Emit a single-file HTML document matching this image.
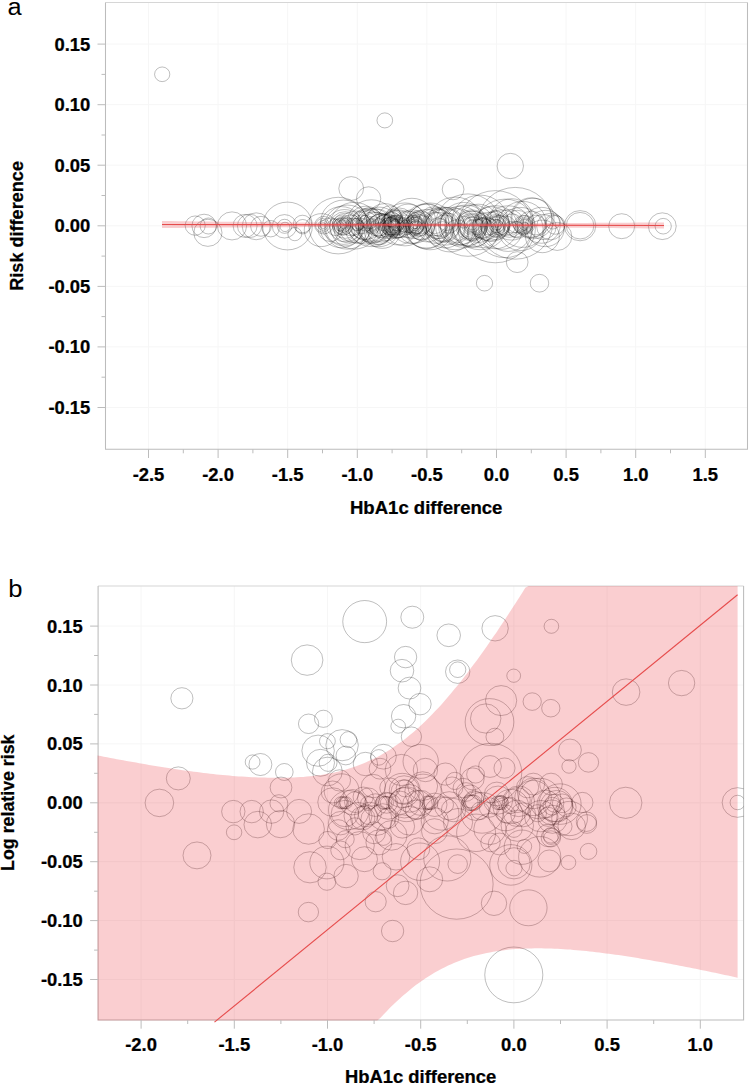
<!DOCTYPE html>
<html><head><meta charset="utf-8"><style>
html,body{margin:0;padding:0;background:#fff;width:749px;height:1085px;overflow:hidden}
svg{display:block}
</style></head><body>
<svg width="749" height="1085" viewBox="0 0 749 1085">
<rect width="749" height="1085" fill="#fff"/>
<rect x="105.5" y="2.4" width="642.0" height="446.90000000000003" fill="#fff"/>
<line x1="148.5" y1="2.4" x2="148.5" y2="449.3" stroke="#f6f6f6" stroke-width="1"/>
<line x1="218.1" y1="2.4" x2="218.1" y2="449.3" stroke="#f6f6f6" stroke-width="1"/>
<line x1="287.7" y1="2.4" x2="287.7" y2="449.3" stroke="#f6f6f6" stroke-width="1"/>
<line x1="357.3" y1="2.4" x2="357.3" y2="449.3" stroke="#f6f6f6" stroke-width="1"/>
<line x1="426.9" y1="2.4" x2="426.9" y2="449.3" stroke="#f6f6f6" stroke-width="1"/>
<line x1="496.5" y1="2.4" x2="496.5" y2="449.3" stroke="#f6f6f6" stroke-width="1"/>
<line x1="566.1" y1="2.4" x2="566.1" y2="449.3" stroke="#f6f6f6" stroke-width="1"/>
<line x1="635.7" y1="2.4" x2="635.7" y2="449.3" stroke="#f6f6f6" stroke-width="1"/>
<line x1="705.3" y1="2.4" x2="705.3" y2="449.3" stroke="#f6f6f6" stroke-width="1"/>
<line x1="105.5" y1="44.1" x2="747.5" y2="44.1" stroke="#f6f6f6" stroke-width="1"/>
<line x1="105.5" y1="104.7" x2="747.5" y2="104.7" stroke="#f6f6f6" stroke-width="1"/>
<line x1="105.5" y1="165.2" x2="747.5" y2="165.2" stroke="#f6f6f6" stroke-width="1"/>
<line x1="105.5" y1="225.8" x2="747.5" y2="225.8" stroke="#f6f6f6" stroke-width="1"/>
<line x1="105.5" y1="286.4" x2="747.5" y2="286.4" stroke="#f6f6f6" stroke-width="1"/>
<line x1="105.5" y1="346.9" x2="747.5" y2="346.9" stroke="#f6f6f6" stroke-width="1"/>
<line x1="105.5" y1="407.5" x2="747.5" y2="407.5" stroke="#f6f6f6" stroke-width="1"/>
<defs><clipPath id="ca"><rect x="105.5" y="2.4" width="642.0" height="446.90000000000003"/></clipPath><clipPath id="cb"><rect x="98.1" y="586" width="645.5" height="434"/></clipPath></defs>
<g clip-path="url(#ca)" fill="none" stroke="#000" stroke-width="0.75" stroke-opacity="0.34">
<ellipse cx="162.2" cy="74.3" rx="7.61" ry="7.32"/>
<ellipse cx="384.8" cy="120.4" rx="7.82" ry="7.51"/>
<ellipse cx="351.2" cy="188.5" rx="12.38" ry="11.90"/>
<ellipse cx="368.6" cy="198.5" rx="12.18" ry="11.71"/>
<ellipse cx="453.1" cy="189.3" rx="10.86" ry="10.44"/>
<ellipse cx="510.3" cy="166" rx="13.19" ry="12.68"/>
<ellipse cx="517.2" cy="262.1" rx="10.86" ry="10.44"/>
<ellipse cx="484.5" cy="283.2" rx="8.12" ry="7.80"/>
<ellipse cx="539.5" cy="283.2" rx="9.24" ry="8.88"/>
<ellipse cx="580.1" cy="225.7" rx="15.73" ry="15.12"/>
<ellipse cx="580.1" cy="225.7" rx="13.80" ry="13.27"/>
<ellipse cx="621.7" cy="226.2" rx="12.99" ry="12.49"/>
<ellipse cx="662.3" cy="226.2" rx="13.91" ry="13.37"/>
<ellipse cx="663.2" cy="226.2" rx="8.12" ry="7.80"/>
<ellipse cx="195.2" cy="225.6" rx="10.05" ry="9.66"/>
<ellipse cx="204.1" cy="225.9" rx="12.18" ry="11.71"/>
<ellipse cx="207.9" cy="232.8" rx="14.11" ry="13.56"/>
<ellipse cx="208.4" cy="226.0" rx="8.32" ry="8.00"/>
<ellipse cx="232.0" cy="225.9" rx="14.62" ry="14.05"/>
<ellipse cx="245.1" cy="225.9" rx="11.98" ry="11.51"/>
<ellipse cx="249.6" cy="225.9" rx="12.18" ry="11.71"/>
<ellipse cx="256.2" cy="226.3" rx="14.01" ry="13.46"/>
<ellipse cx="261" cy="226.3" rx="10.35" ry="9.95"/>
<ellipse cx="270.7" cy="228.7" rx="8.53" ry="8.20"/>
<ellipse cx="284.6" cy="226.3" rx="7.31" ry="7.02"/>
<ellipse cx="284.5" cy="226.3" rx="12.18" ry="11.71"/>
<ellipse cx="285" cy="226.9" rx="4.87" ry="4.68"/>
<ellipse cx="287.5" cy="226.0" rx="24.87" ry="23.90"/>
<ellipse cx="338.2" cy="225.6" rx="29.43" ry="28.29"/>
<ellipse cx="515.2" cy="223.3" rx="37.35" ry="35.90"/>
<ellipse cx="557.2" cy="236.4" rx="14.62" ry="14.05"/>
<ellipse cx="555.3" cy="224.9" rx="9.74" ry="9.37"/>
<ellipse cx="550.5" cy="226.5" rx="13.80" ry="13.27"/>
<ellipse cx="532.9" cy="218.5" rx="21.11" ry="20.29"/>
<ellipse cx="523.3" cy="224.9" rx="9.74" ry="9.37"/>
<ellipse cx="525" cy="224.9" rx="9.74" ry="9.37"/>
<ellipse cx="468" cy="225.1" rx="32.48" ry="31.22"/>
<ellipse cx="495.3" cy="226.7" rx="37.55" ry="36.10"/>
<ellipse cx="455.2" cy="223.4" rx="27.40" ry="26.34"/>
<ellipse cx="430" cy="226.4" rx="24.36" ry="23.41"/>
<ellipse cx="405" cy="224.4" rx="22.33" ry="21.46"/>
<ellipse cx="505" cy="228.4" rx="30.45" ry="29.27"/>
<ellipse cx="480" cy="222.4" rx="28.42" ry="27.32"/>
<ellipse cx="445" cy="228.4" rx="20.30" ry="19.51"/>
<ellipse cx="398" cy="227.4" rx="18.27" ry="17.56"/>
<ellipse cx="407.0" cy="221.8" rx="11.37" ry="10.93"/>
<ellipse cx="339.9" cy="224.8" rx="6.39" ry="6.15"/>
<ellipse cx="344.5" cy="227.8" rx="18.98" ry="18.24"/>
<ellipse cx="481.9" cy="227.8" rx="10.76" ry="10.34"/>
<ellipse cx="543.0" cy="227.0" rx="13.09" ry="12.59"/>
<ellipse cx="406.1" cy="227.4" rx="7.51" ry="7.22"/>
<ellipse cx="482.9" cy="228.4" rx="10.56" ry="10.15"/>
<ellipse cx="489.1" cy="226.7" rx="8.63" ry="8.29"/>
<ellipse cx="426.4" cy="225.9" rx="23.04" ry="22.15"/>
<ellipse cx="457.1" cy="231.2" rx="11.98" ry="11.51"/>
<ellipse cx="545.4" cy="228.5" rx="18.88" ry="18.15"/>
<ellipse cx="330.4" cy="229.7" rx="12.28" ry="11.80"/>
<ellipse cx="517.3" cy="221.6" rx="11.77" ry="11.32"/>
<ellipse cx="512.5" cy="223.5" rx="9.95" ry="9.56"/>
<ellipse cx="341.4" cy="227.2" rx="21.42" ry="20.59"/>
<ellipse cx="415.7" cy="222.6" rx="6.29" ry="6.05"/>
<ellipse cx="381.2" cy="227.9" rx="14.82" ry="14.24"/>
<ellipse cx="416.7" cy="228.0" rx="6.70" ry="6.44"/>
<ellipse cx="463.7" cy="224.9" rx="23.34" ry="22.44"/>
<ellipse cx="412.8" cy="230.0" rx="13.91" ry="13.37"/>
<ellipse cx="383.1" cy="222.9" rx="8.02" ry="7.71"/>
<ellipse cx="302.5" cy="224.0" rx="9.13" ry="8.78"/>
<ellipse cx="535.6" cy="225.1" rx="10.25" ry="9.85"/>
<ellipse cx="522.6" cy="224.4" rx="23.95" ry="23.02"/>
<ellipse cx="416.3" cy="227.1" rx="6.90" ry="6.63"/>
<ellipse cx="389.5" cy="226.3" rx="8.83" ry="8.49"/>
<ellipse cx="294.8" cy="234.1" rx="6.90" ry="6.63"/>
<ellipse cx="477.6" cy="227.1" rx="8.12" ry="7.80"/>
<ellipse cx="411.9" cy="221.0" rx="23.65" ry="22.73"/>
<ellipse cx="353.8" cy="226.7" rx="8.83" ry="8.49"/>
<ellipse cx="509.3" cy="223.4" rx="14.51" ry="13.95"/>
<ellipse cx="460.4" cy="225.3" rx="20.10" ry="19.32"/>
<ellipse cx="515.9" cy="229.3" rx="8.22" ry="7.90"/>
<ellipse cx="459.1" cy="232.0" rx="8.73" ry="8.39"/>
<ellipse cx="508.2" cy="228.6" rx="23.75" ry="22.83"/>
<ellipse cx="393.5" cy="219.4" rx="8.93" ry="8.59"/>
<ellipse cx="321.4" cy="230.1" rx="17.15" ry="16.49"/>
<ellipse cx="531.2" cy="224.5" rx="13.80" ry="13.27"/>
<ellipse cx="391.8" cy="219.3" rx="7.71" ry="7.41"/>
<ellipse cx="511.6" cy="219.4" rx="21.52" ry="20.68"/>
<ellipse cx="354.4" cy="225.7" rx="24.36" ry="23.41"/>
<ellipse cx="384.8" cy="220.9" rx="17.97" ry="17.27"/>
<ellipse cx="541.5" cy="225.3" rx="18.68" ry="17.95"/>
<ellipse cx="371.4" cy="223.2" rx="24.36" ry="23.41"/>
<ellipse cx="377.7" cy="222.6" rx="14.01" ry="13.46"/>
<ellipse cx="372.3" cy="230.0" rx="14.01" ry="13.46"/>
<ellipse cx="457.8" cy="227.0" rx="19.08" ry="18.34"/>
<ellipse cx="396.9" cy="223.1" rx="8.02" ry="7.71"/>
<ellipse cx="398.8" cy="222.9" rx="15.63" ry="15.02"/>
<ellipse cx="472.5" cy="229.4" rx="18.88" ry="18.15"/>
<ellipse cx="448.8" cy="223.2" rx="10.35" ry="9.95"/>
<ellipse cx="302.7" cy="226.7" rx="7.51" ry="7.22"/>
<ellipse cx="495.3" cy="218.8" rx="8.73" ry="8.39"/>
<ellipse cx="365.7" cy="223.2" rx="8.12" ry="7.80"/>
<ellipse cx="501.8" cy="229.6" rx="20.50" ry="19.71"/>
<ellipse cx="478.3" cy="223.3" rx="19.89" ry="19.12"/>
<ellipse cx="426.9" cy="223.0" rx="19.59" ry="18.83"/>
<ellipse cx="531.4" cy="217.5" rx="20.50" ry="19.71"/>
<ellipse cx="510.9" cy="228.5" rx="7.10" ry="6.83"/>
<ellipse cx="347.3" cy="227.1" rx="22.94" ry="22.05"/>
<ellipse cx="379.7" cy="233.8" rx="11.47" ry="11.02"/>
<ellipse cx="393.3" cy="218.3" rx="9.34" ry="8.98"/>
<ellipse cx="552.8" cy="221.9" rx="7.41" ry="7.12"/>
<ellipse cx="387.1" cy="225.3" rx="11.98" ry="11.51"/>
<ellipse cx="463.9" cy="222.1" rx="6.19" ry="5.95"/>
<ellipse cx="343.6" cy="222.2" rx="23.04" ry="22.15"/>
<ellipse cx="364.6" cy="225.4" rx="14.62" ry="14.05"/>
<ellipse cx="421.7" cy="227.9" rx="12.79" ry="12.29"/>
<ellipse cx="379.0" cy="226.9" rx="20.60" ry="19.80"/>
<ellipse cx="490.2" cy="226.5" rx="15.02" ry="14.44"/>
<ellipse cx="482.7" cy="233.3" rx="15.12" ry="14.54"/>
<ellipse cx="426.5" cy="229.1" rx="20.40" ry="19.61"/>
<ellipse cx="399.3" cy="227.6" rx="10.35" ry="9.95"/>
<ellipse cx="335.4" cy="227.3" rx="8.63" ry="8.29"/>
<ellipse cx="499.7" cy="225.2" rx="10.15" ry="9.76"/>
<ellipse cx="396.3" cy="226.4" rx="12.08" ry="11.61"/>
<ellipse cx="386.3" cy="227.6" rx="13.70" ry="13.17"/>
<ellipse cx="446.7" cy="221.6" rx="9.24" ry="8.88"/>
<ellipse cx="491.3" cy="224.1" rx="18.07" ry="17.37"/>
<ellipse cx="417.8" cy="219.9" rx="6.50" ry="6.24"/>
<ellipse cx="346.4" cy="232.6" rx="8.12" ry="7.80"/>
<ellipse cx="516.9" cy="229.8" rx="8.42" ry="8.10"/>
<ellipse cx="403.8" cy="224.8" rx="7.41" ry="7.12"/>
<ellipse cx="542.4" cy="236.4" rx="16.95" ry="16.29"/>
<ellipse cx="405.8" cy="220.8" rx="6.09" ry="5.85"/>
<ellipse cx="388.6" cy="226.5" rx="6.09" ry="5.85"/>
<ellipse cx="357.2" cy="224.7" rx="6.39" ry="6.15"/>
<ellipse cx="472.3" cy="228.6" rx="12.18" ry="11.71"/>
<ellipse cx="494.9" cy="228.1" rx="9.24" ry="8.88"/>
<ellipse cx="495.5" cy="225.5" rx="14.72" ry="14.15"/>
<ellipse cx="520.7" cy="229.0" rx="22.43" ry="21.56"/>
<ellipse cx="450.0" cy="229.6" rx="23.24" ry="22.34"/>
<ellipse cx="472.5" cy="225.8" rx="21.82" ry="20.98"/>
<ellipse cx="373.5" cy="226.7" rx="15.43" ry="14.83"/>
<ellipse cx="465.9" cy="225.4" rx="21.21" ry="20.39"/>
<ellipse cx="505.6" cy="225.7" rx="10.15" ry="9.76"/>
<ellipse cx="485.6" cy="228.6" rx="12.08" ry="11.61"/>
<ellipse cx="495.2" cy="227.2" rx="22.43" ry="21.56"/>
<ellipse cx="445.2" cy="226.3" rx="19.59" ry="18.83"/>
<ellipse cx="482.9" cy="219.9" rx="7.31" ry="7.02"/>
<ellipse cx="419.3" cy="225.1" rx="11.16" ry="10.73"/>
<ellipse cx="351.1" cy="225.4" rx="10.86" ry="10.44"/>
<ellipse cx="412.2" cy="224.2" rx="15.12" ry="14.54"/>
<ellipse cx="396.7" cy="222.7" rx="12.79" ry="12.29"/>
<ellipse cx="391.6" cy="227.8" rx="9.34" ry="8.98"/>
<ellipse cx="442.8" cy="224.0" rx="17.66" ry="16.98"/>
<ellipse cx="346.8" cy="230.2" rx="12.79" ry="12.29"/>
<ellipse cx="389.9" cy="216.2" rx="10.86" ry="10.44"/>
<ellipse cx="366.0" cy="227.0" rx="17.76" ry="17.07"/>
<ellipse cx="359.2" cy="230.8" rx="13.40" ry="12.88"/>
<ellipse cx="440.3" cy="227.7" rx="9.44" ry="9.07"/>
<ellipse cx="433.7" cy="221.4" rx="15.22" ry="14.63"/>
<ellipse cx="368.1" cy="224.8" rx="17.25" ry="16.59"/>
<ellipse cx="345.4" cy="225.8" rx="13.09" ry="12.59"/>
<ellipse cx="390.1" cy="228.0" rx="11.16" ry="10.73"/>
<ellipse cx="376.6" cy="228.5" rx="16.65" ry="16.00"/>
<ellipse cx="345.2" cy="226.8" rx="15.73" ry="15.12"/>
<ellipse cx="437.6" cy="224.0" rx="15.33" ry="14.73"/>
<ellipse cx="435.2" cy="222.9" rx="11.06" ry="10.63"/>
<ellipse cx="444.9" cy="228.6" rx="14.11" ry="13.56"/>
<ellipse cx="381.1" cy="225.5" rx="12.48" ry="12.00"/>
<ellipse cx="355.2" cy="226.9" rx="16.54" ry="15.90"/>
<ellipse cx="373.6" cy="225.7" rx="17.66" ry="16.98"/>
<ellipse cx="396.1" cy="228.8" rx="10.05" ry="9.66"/>
<ellipse cx="382.3" cy="231.2" rx="17.86" ry="17.17"/>
<ellipse cx="408.1" cy="220.8" rx="17.36" ry="16.68"/>
<ellipse cx="439.1" cy="225.5" rx="13.70" ry="13.17"/>
<ellipse cx="418.2" cy="224.4" rx="12.69" ry="12.20"/>
<ellipse cx="420.3" cy="225.4" rx="14.62" ry="14.05"/>
<ellipse cx="437.7" cy="226.9" rx="9.44" ry="9.07"/>
<ellipse cx="392.2" cy="223.8" rx="11.57" ry="11.12"/>
<ellipse cx="442.6" cy="232.0" rx="10.76" ry="10.34"/>
<ellipse cx="410.6" cy="222.0" rx="11.16" ry="10.73"/>
<ellipse cx="361.7" cy="224.3" rx="9.74" ry="9.37"/>
<ellipse cx="365.8" cy="222.9" rx="17.36" ry="16.68"/>
<ellipse cx="435.6" cy="225.8" rx="18.27" ry="17.56"/>
<ellipse cx="390.0" cy="226.3" rx="9.54" ry="9.17"/>
<ellipse cx="379.2" cy="227.3" rx="9.03" ry="8.68"/>
<ellipse cx="368.9" cy="218.1" rx="10.76" ry="10.34"/>
<ellipse cx="420.0" cy="222.2" rx="12.28" ry="11.80"/>
<ellipse cx="323.1" cy="225.6" rx="3.04" ry="2.93"/>
<ellipse cx="323.1" cy="225.4" rx="5.07" ry="4.88"/>
<ellipse cx="322.7" cy="225.4" rx="7.10" ry="6.83"/>
<ellipse cx="323.8" cy="225.2" rx="9.13" ry="8.78"/>
<ellipse cx="342.8" cy="225.7" rx="2.54" ry="2.44"/>
<ellipse cx="343.2" cy="225.3" rx="3.55" ry="3.41"/>
<ellipse cx="342.5" cy="225.3" rx="4.57" ry="4.39"/>
<ellipse cx="342.7" cy="225.5" rx="5.58" ry="5.37"/>
<ellipse cx="343.3" cy="225.9" rx="6.60" ry="6.34"/>
<ellipse cx="343.2" cy="225.1" rx="7.51" ry="7.22"/>
<ellipse cx="342.2" cy="225.8" rx="8.53" ry="8.20"/>
<ellipse cx="343.3" cy="225.6" rx="9.54" ry="9.17"/>
<ellipse cx="342.9" cy="225.1" rx="10.56" ry="10.15"/>
<ellipse cx="358.4" cy="226.0" rx="2.54" ry="2.44"/>
<ellipse cx="358.9" cy="226.0" rx="3.55" ry="3.41"/>
<ellipse cx="359.1" cy="225.3" rx="4.67" ry="4.49"/>
<ellipse cx="358.0" cy="225.3" rx="5.68" ry="5.46"/>
<ellipse cx="372.0" cy="225.8" rx="3.04" ry="2.93"/>
<ellipse cx="372.5" cy="225.8" rx="4.06" ry="3.90"/>
<ellipse cx="372.2" cy="225.9" rx="5.07" ry="4.88"/>
<ellipse cx="371.9" cy="225.7" rx="6.09" ry="5.85"/>
<ellipse cx="371.4" cy="225.9" rx="7.10" ry="6.83"/>
<ellipse cx="371.7" cy="226.0" rx="8.12" ry="7.80"/>
<ellipse cx="394.2" cy="225.2" rx="4.06" ry="3.90"/>
<ellipse cx="393.6" cy="225.2" rx="4.87" ry="4.68"/>
<ellipse cx="394.2" cy="225.6" rx="5.68" ry="5.46"/>
<ellipse cx="393.5" cy="225.0" rx="6.50" ry="6.24"/>
<ellipse cx="394.0" cy="225.5" rx="7.31" ry="7.02"/>
<ellipse cx="393.9" cy="225.1" rx="8.22" ry="7.90"/>
<ellipse cx="394.1" cy="224.9" rx="9.03" ry="8.68"/>
<ellipse cx="393.8" cy="225.4" rx="9.85" ry="9.46"/>
<ellipse cx="394.6" cy="225.5" rx="10.66" ry="10.24"/>
<ellipse cx="415.0" cy="225.4" rx="3.25" ry="3.12"/>
<ellipse cx="414.2" cy="225.1" rx="4.16" ry="4.00"/>
<ellipse cx="415.1" cy="225.6" rx="5.07" ry="4.88"/>
<ellipse cx="414.3" cy="224.9" rx="5.99" ry="5.76"/>
<ellipse cx="414.5" cy="225.6" rx="6.90" ry="6.63"/>
<ellipse cx="414.4" cy="225.2" rx="7.92" ry="7.61"/>
<ellipse cx="414.7" cy="225.8" rx="8.83" ry="8.49"/>
<ellipse cx="414.2" cy="224.9" rx="9.74" ry="9.37"/>
<ellipse cx="414.3" cy="225.3" rx="10.66" ry="10.24"/>
<ellipse cx="472.2" cy="225.1" rx="5.07" ry="4.88"/>
<ellipse cx="472.4" cy="225.6" rx="6.50" ry="6.24"/>
<ellipse cx="472.0" cy="225.1" rx="7.92" ry="7.61"/>
<ellipse cx="472.6" cy="225.2" rx="9.24" ry="8.88"/>
<ellipse cx="472.4" cy="225.1" rx="10.66" ry="10.24"/>
<ellipse cx="471.7" cy="225.7" rx="12.08" ry="11.61"/>
<ellipse cx="471.8" cy="225.9" rx="13.40" ry="12.88"/>
<ellipse cx="472.0" cy="225.1" rx="14.82" ry="14.24"/>
<ellipse cx="471.7" cy="225.3" rx="16.24" ry="15.61"/>
<ellipse cx="497.2" cy="225.8" rx="4.06" ry="3.90"/>
<ellipse cx="496.6" cy="225.3" rx="5.38" ry="5.17"/>
<ellipse cx="496.7" cy="225.9" rx="6.80" ry="6.54"/>
<ellipse cx="496.6" cy="225.0" rx="8.12" ry="7.80"/>
<ellipse cx="496.5" cy="225.3" rx="9.44" ry="9.07"/>
<ellipse cx="497.5" cy="225.8" rx="10.86" ry="10.44"/>
<ellipse cx="497.3" cy="225.9" rx="12.18" ry="11.71"/>
<ellipse cx="525.1" cy="225.4" rx="3.04" ry="2.93"/>
<ellipse cx="524.2" cy="226.0" rx="4.26" ry="4.10"/>
<ellipse cx="524.9" cy="225.1" rx="5.58" ry="5.37"/>
<ellipse cx="524.8" cy="225.5" rx="6.90" ry="6.63"/>
<ellipse cx="524.4" cy="225.4" rx="8.12" ry="7.80"/>
</g>
<polygon points="162.0,221.00 170.5,221.10 179.0,221.19 187.5,221.29 196.0,221.38 204.5,221.47 213.1,221.57 221.6,221.66 230.1,221.75 238.6,221.83 247.1,221.92 255.6,222.01 264.1,222.09 272.6,222.18 281.1,222.26 289.6,222.34 298.1,222.41 306.6,222.49 315.2,222.56 323.7,222.63 332.2,222.70 340.7,222.76 349.2,222.83 357.7,222.88 366.2,222.94 374.7,222.99 383.2,223.04 391.7,223.08 400.2,223.12 408.7,223.15 417.3,223.18 425.8,223.21 434.3,223.23 442.8,223.24 451.3,223.25 459.8,223.26 468.3,223.26 476.8,223.26 485.3,223.25 493.8,223.24 502.3,223.22 510.8,223.21 519.4,223.18 527.9,223.16 536.4,223.13 544.9,223.09 553.4,223.06 561.9,223.02 570.4,222.98 578.9,222.94 587.4,222.89 595.9,222.85 604.4,222.80 612.9,222.75 621.5,222.70 630.0,222.64 638.5,222.59 647.0,222.53 655.5,222.48 664.0,222.42 664.0,228.58 655.5,228.49 647.0,228.40 638.5,228.31 630.0,228.22 621.5,228.13 612.9,228.05 604.4,227.96 595.9,227.88 587.4,227.80 578.9,227.72 570.4,227.65 561.9,227.57 553.4,227.50 544.9,227.43 536.4,227.37 527.9,227.30 519.4,227.24 510.8,227.18 502.3,227.13 493.8,227.08 485.3,227.04 476.8,226.99 468.3,226.96 459.8,226.93 451.3,226.90 442.8,226.87 434.3,226.86 425.8,226.84 417.3,226.83 408.7,226.83 400.2,226.83 391.7,226.83 383.2,226.84 374.7,226.86 366.2,226.87 357.7,226.90 349.2,226.92 340.7,226.95 332.2,226.98 323.7,227.01 315.2,227.05 306.6,227.09 298.1,227.13 289.6,227.17 281.1,227.22 272.6,227.26 264.1,227.31 255.6,227.36 247.1,227.42 238.6,227.47 230.1,227.53 221.6,227.58 213.1,227.64 204.5,227.70 196.0,227.76 187.5,227.82 179.0,227.88 170.5,227.94 162.0,228.00" fill="#e61e28" fill-opacity="0.22"/>
<line x1="162.0" y1="224.50" x2="664.0" y2="225.50" stroke="#e64c4c" stroke-width="1.2"/>
<path d="M105.5,2.4 H747.5" fill="none" stroke="#d6d6d6" stroke-width="1.05"/>
<path d="M747.5,2.4 V449.3 H105.5 V2.4" fill="none" stroke="#bcbcbc" stroke-width="1.05" stroke-linejoin="miter"/>
<line x1="148.5" y1="449.3" x2="148.5" y2="458.0" stroke="#bcbcbc" stroke-width="1"/>
<text transform="translate(148.5,481) scale(1.045,1)" text-anchor="middle" style="font-family:'Liberation Sans',sans-serif;font-weight:bold;stroke:#000;stroke-width:0.25px;font-size:17.6px">-2.5</text>
<line x1="218.1" y1="449.3" x2="218.1" y2="458.0" stroke="#bcbcbc" stroke-width="1"/>
<text transform="translate(218.1,481) scale(1.045,1)" text-anchor="middle" style="font-family:'Liberation Sans',sans-serif;font-weight:bold;stroke:#000;stroke-width:0.25px;font-size:17.6px">-2.0</text>
<line x1="287.7" y1="449.3" x2="287.7" y2="458.0" stroke="#bcbcbc" stroke-width="1"/>
<text transform="translate(287.7,481) scale(1.045,1)" text-anchor="middle" style="font-family:'Liberation Sans',sans-serif;font-weight:bold;stroke:#000;stroke-width:0.25px;font-size:17.6px">-1.5</text>
<line x1="357.3" y1="449.3" x2="357.3" y2="458.0" stroke="#bcbcbc" stroke-width="1"/>
<text transform="translate(357.3,481) scale(1.045,1)" text-anchor="middle" style="font-family:'Liberation Sans',sans-serif;font-weight:bold;stroke:#000;stroke-width:0.25px;font-size:17.6px">-1.0</text>
<line x1="426.9" y1="449.3" x2="426.9" y2="458.0" stroke="#bcbcbc" stroke-width="1"/>
<text transform="translate(426.9,481) scale(1.045,1)" text-anchor="middle" style="font-family:'Liberation Sans',sans-serif;font-weight:bold;stroke:#000;stroke-width:0.25px;font-size:17.6px">-0.5</text>
<line x1="496.5" y1="449.3" x2="496.5" y2="458.0" stroke="#bcbcbc" stroke-width="1"/>
<text transform="translate(496.5,481) scale(1.045,1)" text-anchor="middle" style="font-family:'Liberation Sans',sans-serif;font-weight:bold;stroke:#000;stroke-width:0.25px;font-size:17.6px">0.0</text>
<line x1="566.1" y1="449.3" x2="566.1" y2="458.0" stroke="#bcbcbc" stroke-width="1"/>
<text transform="translate(566.1,481) scale(1.045,1)" text-anchor="middle" style="font-family:'Liberation Sans',sans-serif;font-weight:bold;stroke:#000;stroke-width:0.25px;font-size:17.6px">0.5</text>
<line x1="635.7" y1="449.3" x2="635.7" y2="458.0" stroke="#bcbcbc" stroke-width="1"/>
<text transform="translate(635.7,481) scale(1.045,1)" text-anchor="middle" style="font-family:'Liberation Sans',sans-serif;font-weight:bold;stroke:#000;stroke-width:0.25px;font-size:17.6px">1.0</text>
<line x1="705.3" y1="449.3" x2="705.3" y2="458.0" stroke="#bcbcbc" stroke-width="1"/>
<text transform="translate(705.3,481) scale(1.045,1)" text-anchor="middle" style="font-family:'Liberation Sans',sans-serif;font-weight:bold;stroke:#000;stroke-width:0.25px;font-size:17.6px">1.5</text>
<line x1="183.3" y1="449.3" x2="183.3" y2="453.3" stroke="#bcbcbc" stroke-width="1"/>
<line x1="252.9" y1="449.3" x2="252.9" y2="453.3" stroke="#bcbcbc" stroke-width="1"/>
<line x1="322.5" y1="449.3" x2="322.5" y2="453.3" stroke="#bcbcbc" stroke-width="1"/>
<line x1="392.1" y1="449.3" x2="392.1" y2="453.3" stroke="#bcbcbc" stroke-width="1"/>
<line x1="461.7" y1="449.3" x2="461.7" y2="453.3" stroke="#bcbcbc" stroke-width="1"/>
<line x1="531.3" y1="449.3" x2="531.3" y2="453.3" stroke="#bcbcbc" stroke-width="1"/>
<line x1="600.9" y1="449.3" x2="600.9" y2="453.3" stroke="#bcbcbc" stroke-width="1"/>
<line x1="670.5" y1="449.3" x2="670.5" y2="453.3" stroke="#bcbcbc" stroke-width="1"/>
<line x1="97.5" y1="44.1" x2="105.5" y2="44.1" stroke="#bcbcbc" stroke-width="1"/>
<text transform="translate(90.3,50.6) scale(1.045,1)" text-anchor="end" style="font-family:'Liberation Sans',sans-serif;font-weight:bold;stroke:#000;stroke-width:0.25px;font-size:17.6px">0.15</text>
<line x1="97.5" y1="104.7" x2="105.5" y2="104.7" stroke="#bcbcbc" stroke-width="1"/>
<text transform="translate(90.3,111.2) scale(1.045,1)" text-anchor="end" style="font-family:'Liberation Sans',sans-serif;font-weight:bold;stroke:#000;stroke-width:0.25px;font-size:17.6px">0.10</text>
<line x1="97.5" y1="165.2" x2="105.5" y2="165.2" stroke="#bcbcbc" stroke-width="1"/>
<text transform="translate(90.3,171.7) scale(1.045,1)" text-anchor="end" style="font-family:'Liberation Sans',sans-serif;font-weight:bold;stroke:#000;stroke-width:0.25px;font-size:17.6px">0.05</text>
<line x1="97.5" y1="225.8" x2="105.5" y2="225.8" stroke="#bcbcbc" stroke-width="1"/>
<text transform="translate(90.3,232.3) scale(1.045,1)" text-anchor="end" style="font-family:'Liberation Sans',sans-serif;font-weight:bold;stroke:#000;stroke-width:0.25px;font-size:17.6px">0.00</text>
<line x1="97.5" y1="286.4" x2="105.5" y2="286.4" stroke="#bcbcbc" stroke-width="1"/>
<text transform="translate(90.3,292.9) scale(1.045,1)" text-anchor="end" style="font-family:'Liberation Sans',sans-serif;font-weight:bold;stroke:#000;stroke-width:0.25px;font-size:17.6px">-0.05</text>
<line x1="97.5" y1="346.9" x2="105.5" y2="346.9" stroke="#bcbcbc" stroke-width="1"/>
<text transform="translate(90.3,353.4) scale(1.045,1)" text-anchor="end" style="font-family:'Liberation Sans',sans-serif;font-weight:bold;stroke:#000;stroke-width:0.25px;font-size:17.6px">-0.10</text>
<line x1="97.5" y1="407.5" x2="105.5" y2="407.5" stroke="#bcbcbc" stroke-width="1"/>
<text transform="translate(90.3,414.0) scale(1.045,1)" text-anchor="end" style="font-family:'Liberation Sans',sans-serif;font-weight:bold;stroke:#000;stroke-width:0.25px;font-size:17.6px">-0.15</text>
<line x1="101.5" y1="74.4" x2="105.5" y2="74.4" stroke="#bcbcbc" stroke-width="1"/>
<line x1="101.5" y1="135.0" x2="105.5" y2="135.0" stroke="#bcbcbc" stroke-width="1"/>
<line x1="101.5" y1="195.5" x2="105.5" y2="195.5" stroke="#bcbcbc" stroke-width="1"/>
<line x1="101.5" y1="256.1" x2="105.5" y2="256.1" stroke="#bcbcbc" stroke-width="1"/>
<line x1="101.5" y1="316.6" x2="105.5" y2="316.6" stroke="#bcbcbc" stroke-width="1"/>
<line x1="101.5" y1="377.2" x2="105.5" y2="377.2" stroke="#bcbcbc" stroke-width="1"/>
<text transform="translate(426.2,513.5) scale(1.045,1)" text-anchor="middle" style="font-family:'Liberation Sans',sans-serif;font-weight:bold;stroke:#000;stroke-width:0.25px;font-size:17.75px">HbA1c difference</text>
<text transform="translate(22.5,225.9) scale(1.045,1) rotate(-90)" text-anchor="middle" style="font-family:'Liberation Sans',sans-serif;font-weight:bold;stroke:#000;stroke-width:0.25px;font-size:18.1px">Risk difference</text>
<text transform="translate(7.4,15.0) scale(1.045,1)" style="font-family:'Liberation Sans',sans-serif;font-size:24.3px">a</text>
<line x1="141.1" y1="586.0" x2="141.1" y2="1020.0" stroke="#f6f6f6" stroke-width="1"/>
<line x1="234.3" y1="586.0" x2="234.3" y2="1020.0" stroke="#f6f6f6" stroke-width="1"/>
<line x1="327.5" y1="586.0" x2="327.5" y2="1020.0" stroke="#f6f6f6" stroke-width="1"/>
<line x1="420.7" y1="586.0" x2="420.7" y2="1020.0" stroke="#f6f6f6" stroke-width="1"/>
<line x1="513.9" y1="586.0" x2="513.9" y2="1020.0" stroke="#f6f6f6" stroke-width="1"/>
<line x1="607.1" y1="586.0" x2="607.1" y2="1020.0" stroke="#f6f6f6" stroke-width="1"/>
<line x1="700.3" y1="586.0" x2="700.3" y2="1020.0" stroke="#f6f6f6" stroke-width="1"/>
<line x1="98.1" y1="626.1" x2="743.6" y2="626.1" stroke="#f6f6f6" stroke-width="1"/>
<line x1="98.1" y1="685.0" x2="743.6" y2="685.0" stroke="#f6f6f6" stroke-width="1"/>
<line x1="98.1" y1="743.9" x2="743.6" y2="743.9" stroke="#f6f6f6" stroke-width="1"/>
<line x1="98.1" y1="802.8" x2="743.6" y2="802.8" stroke="#f6f6f6" stroke-width="1"/>
<line x1="98.1" y1="861.7" x2="743.6" y2="861.7" stroke="#f6f6f6" stroke-width="1"/>
<line x1="98.1" y1="920.6" x2="743.6" y2="920.6" stroke="#f6f6f6" stroke-width="1"/>
<line x1="98.1" y1="979.5" x2="743.6" y2="979.5" stroke="#f6f6f6" stroke-width="1"/>
<path d="M98.1,586.0 H743.6" fill="none" stroke="#d6d6d6" stroke-width="1.05"/>
<path d="M743.6,586.0 V1020.0 H98.1 V586.0" fill="none" stroke="#bcbcbc" stroke-width="1.05" stroke-linejoin="miter"/>
<g clip-path="url(#cb)" fill="none" stroke="#000" stroke-width="0.75" stroke-opacity="0.34">
<ellipse cx="178.3" cy="778.4" rx="11.98" ry="11.51"/>
<ellipse cx="159.4" cy="802.9" rx="14.31" ry="13.76"/>
<ellipse cx="197.0" cy="855.4" rx="14.01" ry="13.46"/>
<ellipse cx="234.1" cy="832.3" rx="7.71" ry="7.41"/>
<ellipse cx="181.9" cy="698.3" rx="11.06" ry="10.63"/>
<ellipse cx="252.6" cy="762.0" rx="7.41" ry="7.12"/>
<ellipse cx="260.4" cy="764.5" rx="11.47" ry="11.02"/>
<ellipse cx="284.3" cy="772.0" rx="8.83" ry="8.49"/>
<ellipse cx="281.0" cy="787.5" rx="10.86" ry="10.44"/>
<ellipse cx="364.7" cy="621.6" rx="21.92" ry="21.07"/>
<ellipse cx="307.1" cy="660.1" rx="15.83" ry="15.22"/>
<ellipse cx="412.3" cy="617.2" rx="11.47" ry="11.02"/>
<ellipse cx="405.6" cy="657.1" rx="11.16" ry="10.73"/>
<ellipse cx="402" cy="670.7" rx="11.77" ry="11.32"/>
<ellipse cx="409.5" cy="688.1" rx="11.37" ry="10.93"/>
<ellipse cx="420" cy="704.2" rx="11.16" ry="10.73"/>
<ellipse cx="403.6" cy="716.2" rx="12.18" ry="11.71"/>
<ellipse cx="398.2" cy="726.2" rx="7.31" ry="7.02"/>
<ellipse cx="308.6" cy="723.8" rx="10.15" ry="9.76"/>
<ellipse cx="323.4" cy="718.8" rx="8.93" ry="8.59"/>
<ellipse cx="448.7" cy="635.3" rx="11.77" ry="11.32"/>
<ellipse cx="495.1" cy="628.3" rx="13.19" ry="12.68"/>
<ellipse cx="551.4" cy="626.3" rx="7.31" ry="7.02"/>
<ellipse cx="457.7" cy="671.7" rx="12.18" ry="11.71"/>
<ellipse cx="457.7" cy="669.7" rx="8.12" ry="7.80"/>
<ellipse cx="513.7" cy="675.7" rx="6.90" ry="6.63"/>
<ellipse cx="501.1" cy="700.6" rx="15.63" ry="15.02"/>
<ellipse cx="532.2" cy="701.6" rx="9.13" ry="8.78"/>
<ellipse cx="550.8" cy="708.2" rx="9.13" ry="8.78"/>
<ellipse cx="485.7" cy="718.5" rx="15.22" ry="14.63"/>
<ellipse cx="489.5" cy="722" rx="24.36" ry="23.41"/>
<ellipse cx="494.9" cy="736.8" rx="8.93" ry="8.59"/>
<ellipse cx="626.1" cy="692.1" rx="13.80" ry="13.27"/>
<ellipse cx="681.6" cy="683.1" rx="13.19" ry="12.68"/>
<ellipse cx="737.6" cy="802.5" rx="15.43" ry="14.83"/>
<ellipse cx="737.6" cy="802.5" rx="7.51" ry="7.22"/>
<ellipse cx="625.7" cy="802.8" rx="16.24" ry="15.61"/>
<ellipse cx="233.3" cy="811.6" rx="11.67" ry="11.22"/>
<ellipse cx="251.7" cy="811.6" rx="11.67" ry="11.22"/>
<ellipse cx="257.8" cy="824.6" rx="13.80" ry="13.27"/>
<ellipse cx="271.6" cy="811.6" rx="12.18" ry="11.71"/>
<ellipse cx="278.9" cy="803.3" rx="8.93" ry="8.59"/>
<ellipse cx="280.5" cy="824.1" rx="14.21" ry="13.66"/>
<ellipse cx="318.1" cy="750.7" rx="16.24" ry="15.61"/>
<ellipse cx="327.4" cy="741.2" rx="7.92" ry="7.61"/>
<ellipse cx="348.4" cy="739.6" rx="8.32" ry="8.00"/>
<ellipse cx="342.1" cy="745.2" rx="16.24" ry="15.61"/>
<ellipse cx="320.5" cy="762.8" rx="14.01" ry="13.46"/>
<ellipse cx="328.1" cy="762.8" rx="8.93" ry="8.59"/>
<ellipse cx="345.8" cy="755.5" rx="9.74" ry="9.37"/>
<ellipse cx="327.4" cy="771.5" rx="14.92" ry="14.34"/>
<ellipse cx="365.4" cy="764" rx="12.18" ry="11.71"/>
<ellipse cx="378.8" cy="757.4" rx="8.12" ry="7.80"/>
<ellipse cx="299.1" cy="811.4" rx="12.48" ry="12.00"/>
<ellipse cx="308.6" cy="829" rx="15.83" ry="15.22"/>
<ellipse cx="332.7" cy="802.1" rx="14.92" ry="14.34"/>
<ellipse cx="355.4" cy="802.1" rx="10.86" ry="10.44"/>
<ellipse cx="348.8" cy="810.1" rx="20.30" ry="19.51"/>
<ellipse cx="411.4" cy="736.7" rx="10.15" ry="9.76"/>
<ellipse cx="420.7" cy="761.4" rx="17.66" ry="16.98"/>
<ellipse cx="383.4" cy="756.7" rx="12.89" ry="12.39"/>
<ellipse cx="380" cy="768.7" rx="10.86" ry="10.44"/>
<ellipse cx="401.4" cy="770" rx="16.24" ry="15.61"/>
<ellipse cx="425.4" cy="770" rx="12.18" ry="11.71"/>
<ellipse cx="445.4" cy="774.1" rx="11.57" ry="11.12"/>
<ellipse cx="452.1" cy="787.4" rx="10.86" ry="10.44"/>
<ellipse cx="422.7" cy="786.1" rx="14.92" ry="14.34"/>
<ellipse cx="404.1" cy="790.1" rx="14.92" ry="14.34"/>
<ellipse cx="373.4" cy="786.1" rx="12.18" ry="11.71"/>
<ellipse cx="368" cy="803.4" rx="7.41" ry="7.12"/>
<ellipse cx="386.7" cy="802.8" rx="10.86" ry="10.44"/>
<ellipse cx="400" cy="802.8" rx="12.18" ry="11.71"/>
<ellipse cx="417.4" cy="804.8" rx="14.92" ry="14.34"/>
<ellipse cx="434.8" cy="804.8" rx="12.18" ry="11.71"/>
<ellipse cx="445.4" cy="804.8" rx="8.12" ry="7.80"/>
<ellipse cx="453.5" cy="810.1" rx="12.18" ry="11.71"/>
<ellipse cx="382.7" cy="816.8" rx="13.60" ry="13.07"/>
<ellipse cx="409.4" cy="820.8" rx="14.92" ry="14.34"/>
<ellipse cx="434.8" cy="820.8" rx="13.60" ry="13.07"/>
<ellipse cx="362.7" cy="818.1" rx="12.18" ry="11.71"/>
<ellipse cx="490.9" cy="772.9" rx="30.86" ry="29.66"/>
<ellipse cx="490" cy="766.5" rx="11.37" ry="10.93"/>
<ellipse cx="504.5" cy="768.1" rx="10.56" ry="10.15"/>
<ellipse cx="475.6" cy="774.5" rx="8.93" ry="8.59"/>
<ellipse cx="570" cy="750" rx="11.37" ry="10.93"/>
<ellipse cx="569" cy="766.4" rx="7.10" ry="6.83"/>
<ellipse cx="539.7" cy="798.5" rx="21.11" ry="20.29"/>
<ellipse cx="551" cy="784.1" rx="11.37" ry="10.93"/>
<ellipse cx="533.3" cy="784.1" rx="11.37" ry="10.93"/>
<ellipse cx="474" cy="800.1" rx="9.74" ry="9.37"/>
<ellipse cx="501.3" cy="801.7" rx="6.50" ry="6.24"/>
<ellipse cx="498.1" cy="800.1" rx="14.62" ry="14.05"/>
<ellipse cx="517.3" cy="800.1" rx="12.99" ry="12.49"/>
<ellipse cx="482" cy="812.9" rx="21.11" ry="20.29"/>
<ellipse cx="510.9" cy="806.5" rx="17.86" ry="17.17"/>
<ellipse cx="562.1" cy="803.3" rx="9.74" ry="9.37"/>
<ellipse cx="552.5" cy="819.3" rx="14.62" ry="14.05"/>
<ellipse cx="551" cy="835.3" rx="8.12" ry="7.80"/>
<ellipse cx="517.3" cy="825.7" rx="16.24" ry="15.61"/>
<ellipse cx="490" cy="829" rx="16.24" ry="15.61"/>
<ellipse cx="458" cy="822.5" rx="14.62" ry="14.05"/>
<ellipse cx="454.8" cy="780.9" rx="8.93" ry="8.59"/>
<ellipse cx="466" cy="792" rx="9.74" ry="9.37"/>
<ellipse cx="308.4" cy="912.1" rx="10.15" ry="9.76"/>
<ellipse cx="310" cy="867.3" rx="16.24" ry="15.61"/>
<ellipse cx="326.9" cy="881.7" rx="8.93" ry="8.59"/>
<ellipse cx="326.9" cy="862.5" rx="17.05" ry="16.39"/>
<ellipse cx="346.1" cy="876.1" rx="12.18" ry="11.71"/>
<ellipse cx="375.7" cy="901.7" rx="10.56" ry="10.15"/>
<ellipse cx="392.6" cy="931.0" rx="11.16" ry="10.73"/>
<ellipse cx="327.7" cy="840" rx="8.93" ry="8.59"/>
<ellipse cx="340.5" cy="850.4" rx="9.74" ry="9.37"/>
<ellipse cx="345.3" cy="839.2" rx="8.93" ry="8.59"/>
<ellipse cx="364.5" cy="859.2" rx="12.99" ry="12.49"/>
<ellipse cx="359.7" cy="845.6" rx="14.62" ry="14.05"/>
<ellipse cx="378.9" cy="842.4" rx="12.99" ry="12.49"/>
<ellipse cx="382.1" cy="871.3" rx="8.93" ry="8.59"/>
<ellipse cx="374.1" cy="832.8" rx="11.37" ry="10.93"/>
<ellipse cx="340.5" cy="823.2" rx="12.18" ry="11.71"/>
<ellipse cx="354.9" cy="826.4" rx="8.93" ry="8.59"/>
<ellipse cx="456.6" cy="884.1" rx="36.54" ry="35.12"/>
<ellipse cx="494" cy="903.3" rx="12.69" ry="12.20"/>
<ellipse cx="405.6" cy="892.9" rx="12.18" ry="11.71"/>
<ellipse cx="397.6" cy="885.7" rx="11.37" ry="10.93"/>
<ellipse cx="429.7" cy="879.3" rx="12.99" ry="12.49"/>
<ellipse cx="457.7" cy="864.1" rx="9.74" ry="9.37"/>
<ellipse cx="447.3" cy="858.4" rx="23.55" ry="22.63"/>
<ellipse cx="420.1" cy="861.7" rx="19.49" ry="18.73"/>
<ellipse cx="418.4" cy="848.8" rx="11.37" ry="10.93"/>
<ellipse cx="396" cy="856.8" rx="13.80" ry="13.27"/>
<ellipse cx="490.5" cy="842.4" rx="9.74" ry="9.37"/>
<ellipse cx="476.1" cy="832.8" rx="19.49" ry="18.73"/>
<ellipse cx="434.5" cy="831.2" rx="12.99" ry="12.49"/>
<ellipse cx="383.2" cy="837.6" rx="8.12" ry="7.80"/>
<ellipse cx="402.4" cy="826.4" rx="12.18" ry="11.71"/>
<ellipse cx="528.4" cy="907.8" rx="18.68" ry="17.95"/>
<ellipse cx="588.5" cy="851.4" rx="8.32" ry="8.00"/>
<ellipse cx="568.5" cy="862.5" rx="7.31" ry="7.02"/>
<ellipse cx="549.3" cy="860.9" rx="11.37" ry="10.93"/>
<ellipse cx="550.9" cy="837.6" rx="9.74" ry="9.37"/>
<ellipse cx="550.9" cy="837.6" rx="7.10" ry="6.83"/>
<ellipse cx="522" cy="847.2" rx="17.86" ry="17.17"/>
<ellipse cx="524.4" cy="846.4" rx="7.31" ry="7.02"/>
<ellipse cx="510.8" cy="864.9" rx="21.11" ry="20.29"/>
<ellipse cx="514" cy="868.1" rx="8.12" ry="7.80"/>
<ellipse cx="514" cy="863.3" rx="16.24" ry="15.61"/>
<ellipse cx="539.7" cy="856.8" rx="21.11" ry="20.29"/>
<ellipse cx="571.7" cy="826.4" rx="13.80" ry="13.27"/>
<ellipse cx="586.9" cy="824" rx="9.74" ry="9.37"/>
<ellipse cx="514" cy="829.6" rx="8.12" ry="7.80"/>
<ellipse cx="499.6" cy="844" rx="11.37" ry="10.93"/>
<ellipse cx="588.5" cy="762.4" rx="10.15" ry="9.76"/>
<ellipse cx="582.4" cy="802.5" rx="10.56" ry="10.15"/>
<ellipse cx="586.4" cy="821.7" rx="10.15" ry="9.76"/>
<ellipse cx="569.6" cy="818.5" rx="17.86" ry="17.17"/>
<ellipse cx="560" cy="804.1" rx="21.11" ry="20.29"/>
<ellipse cx="566.4" cy="807.3" rx="9.74" ry="9.37"/>
<ellipse cx="513.8" cy="974.9" rx="29.03" ry="27.90"/>
<ellipse cx="340.7" cy="802.8" rx="6.29" ry="6.05"/>
<ellipse cx="342.5" cy="802.8" rx="6.29" ry="6.05"/>
<ellipse cx="344.3" cy="802.8" rx="6.29" ry="6.05"/>
<ellipse cx="346.1" cy="802.8" rx="6.29" ry="6.05"/>
<ellipse cx="383.3" cy="802.8" rx="6.60" ry="6.34"/>
<ellipse cx="385.1" cy="802.8" rx="6.60" ry="6.34"/>
<ellipse cx="386.9" cy="802.8" rx="6.60" ry="6.34"/>
<ellipse cx="427.3" cy="802.8" rx="7.10" ry="6.83"/>
<ellipse cx="429.1" cy="802.8" rx="7.10" ry="6.83"/>
<ellipse cx="430.9" cy="802.8" rx="7.10" ry="6.83"/>
<ellipse cx="470.0" cy="802.8" rx="8.12" ry="7.80"/>
<ellipse cx="471.8" cy="802.8" rx="8.12" ry="7.80"/>
<ellipse cx="473.6" cy="802.8" rx="8.12" ry="7.80"/>
<ellipse cx="497.8" cy="802.8" rx="7.10" ry="6.83"/>
<ellipse cx="499.6" cy="802.8" rx="7.10" ry="6.83"/>
<ellipse cx="501.4" cy="802.8" rx="7.10" ry="6.83"/>
<ellipse cx="369.8" cy="813.5" rx="11.67" ry="11.22"/>
<ellipse cx="554.5" cy="803.2" rx="9.34" ry="8.98"/>
<ellipse cx="556.6" cy="806.2" rx="16.44" ry="15.80"/>
<ellipse cx="523.2" cy="814.8" rx="12.48" ry="12.00"/>
<ellipse cx="341.6" cy="790.6" rx="17.46" ry="16.78"/>
<ellipse cx="375.4" cy="805.1" rx="11.77" ry="11.32"/>
<ellipse cx="540.8" cy="816.1" rx="16.34" ry="15.71"/>
<ellipse cx="510.2" cy="805.5" rx="8.53" ry="8.20"/>
<ellipse cx="338.2" cy="830.0" rx="10.76" ry="10.34"/>
<ellipse cx="505.6" cy="814.2" rx="17.25" ry="16.59"/>
<ellipse cx="409.7" cy="798.4" rx="14.41" ry="13.85"/>
<ellipse cx="391.6" cy="835.4" rx="15.43" ry="14.83"/>
<ellipse cx="404.4" cy="802.8" rx="15.83" ry="15.22"/>
<ellipse cx="545.4" cy="804.1" rx="14.51" ry="13.95"/>
<ellipse cx="551.7" cy="812.4" rx="12.99" ry="12.49"/>
<ellipse cx="554.8" cy="804.4" rx="17.76" ry="17.07"/>
<ellipse cx="420.8" cy="802.9" rx="13.09" ry="12.59"/>
<ellipse cx="548.1" cy="816.8" rx="9.95" ry="9.56"/>
<ellipse cx="518.6" cy="801.3" rx="15.94" ry="15.32"/>
<ellipse cx="472.7" cy="778.9" rx="11.47" ry="11.02"/>
<ellipse cx="405.1" cy="788.3" rx="8.93" ry="8.59"/>
<ellipse cx="376.4" cy="820.3" rx="15.73" ry="15.12"/>
<ellipse cx="388.1" cy="806.1" rx="13.70" ry="13.17"/>
<ellipse cx="406.6" cy="804.3" rx="18.07" ry="17.37"/>
<ellipse cx="537.6" cy="813.2" rx="8.93" ry="8.59"/>
<ellipse cx="352.7" cy="802.2" rx="13.19" ry="12.68"/>
<ellipse cx="496.8" cy="794.0" rx="12.38" ry="11.90"/>
<ellipse cx="475.8" cy="806.1" rx="14.92" ry="14.34"/>
<ellipse cx="505.8" cy="814.0" rx="9.34" ry="8.98"/>
<ellipse cx="527.6" cy="787.2" rx="11.06" ry="10.63"/>
<ellipse cx="463.2" cy="788.1" rx="10.15" ry="9.76"/>
<ellipse cx="388.1" cy="818.2" rx="10.66" ry="10.24"/>
<ellipse cx="366.0" cy="815.8" rx="11.47" ry="11.02"/>
<ellipse cx="423.1" cy="791.6" rx="18.17" ry="17.46"/>
<ellipse cx="449.2" cy="805.8" rx="14.72" ry="14.15"/>
<ellipse cx="562.9" cy="826.5" rx="9.13" ry="8.78"/>
<ellipse cx="441.6" cy="813.5" rx="17.36" ry="16.68"/>
<ellipse cx="339.5" cy="780.4" rx="11.06" ry="10.63"/>
<ellipse cx="358.0" cy="815.9" rx="14.01" ry="13.46"/>
<ellipse cx="548.6" cy="835.4" rx="11.88" ry="11.41"/>
<ellipse cx="533.5" cy="793.4" rx="16.04" ry="15.41"/>
<ellipse cx="552.2" cy="806.2" rx="9.24" ry="8.88"/>
<ellipse cx="470.1" cy="796.4" rx="11.88" ry="11.41"/>
<ellipse cx="363.2" cy="796.8" rx="10.15" ry="9.76"/>
<ellipse cx="389.9" cy="787.7" rx="10.15" ry="9.76"/>
<ellipse cx="332.7" cy="792.0" rx="11.47" ry="11.02"/>
<ellipse cx="489.4" cy="807.5" rx="10.15" ry="9.76"/>
<ellipse cx="516.9" cy="813.3" rx="13.70" ry="13.17"/>
<ellipse cx="344.9" cy="813.5" rx="13.70" ry="13.17"/>
<ellipse cx="480.2" cy="810.8" rx="9.03" ry="8.68"/>
<ellipse cx="368.5" cy="798.5" rx="10.96" ry="10.54"/>
<ellipse cx="402.3" cy="790.4" rx="17.76" ry="17.07"/>
<ellipse cx="403.4" cy="791.8" rx="12.38" ry="11.90"/>
<ellipse cx="533.1" cy="798.0" rx="18.27" ry="17.56"/>
<ellipse cx="415.5" cy="809.8" rx="10.15" ry="9.76"/>
</g>
<polygon points="97.5,755.5 100.7,756.1 103.9,756.7 107.1,757.3 110.4,757.9 113.6,758.6 116.8,759.2 120.0,759.7 123.2,760.3 126.4,760.9 129.7,761.5 132.9,762.1 136.1,762.6 139.3,763.2 142.5,763.8 145.7,764.3 149.0,764.9 152.2,765.4 155.4,765.9 158.6,766.5 161.8,767.0 165.0,767.5 168.3,768.0 171.5,768.5 174.7,769.0 177.9,769.4 181.1,769.9 184.3,770.4 187.6,770.8 190.8,771.3 194.0,771.7 197.2,772.1 200.4,772.5 203.6,772.9 206.9,773.3 210.1,773.7 213.3,774.0 216.5,774.4 219.7,774.7 222.9,775.0 226.2,775.3 229.4,775.6 232.6,775.9 235.8,776.2 239.0,776.4 242.2,776.6 245.5,776.8 248.7,777.0 251.9,777.2 255.1,777.3 258.3,777.5 261.5,777.6 264.8,777.6 268.0,777.7 271.2,777.7 274.4,777.7 277.6,777.7 280.8,777.7 284.1,777.7 287.3,777.7 290.5,777.6 293.7,777.5 296.9,777.3 300.1,777.1 303.4,776.9 306.6,776.6 309.8,776.3 313.0,776.0 316.2,775.6 319.4,775.2 322.7,774.7 325.9,774.1 329.1,773.6 332.3,772.9 335.5,772.2 338.7,771.4 342.0,770.6 345.2,769.7 348.4,768.8 351.6,767.8 354.8,766.7 358.0,765.5 361.3,764.3 364.5,763.0 367.7,761.6 370.9,760.1 374.1,758.5 377.3,756.9 380.6,755.2 383.8,753.3 387.0,751.4 390.2,749.4 393.4,747.3 396.6,745.1 399.9,742.8 403.1,740.4 406.3,737.9 409.5,735.3 412.7,732.7 415.9,729.9 419.2,727.0 422.4,724.0 425.6,720.9 428.8,717.8 432.0,714.5 435.2,711.1 438.5,707.7 441.7,704.2 444.9,700.5 448.1,696.8 451.3,693.0 454.5,689.1 457.8,685.2 461.0,681.2 464.2,677.0 467.4,672.9 470.6,668.6 473.8,664.3 477.1,659.9 480.3,655.5 483.5,651.0 486.7,646.4 489.9,641.8 493.1,637.1 496.4,632.4 499.6,627.6 502.8,622.8 506.0,617.9 509.2,613.0 512.4,608.0 515.7,603.0 518.9,598.0 522.1,592.9 525.3,587.8 528.5,586.0 531.7,586.0 535.0,586.0 538.2,586.0 541.4,586.0 544.6,586.0 547.8,586.0 551.0,586.0 554.3,586.0 557.5,586.0 560.7,586.0 563.9,586.0 567.1,586.0 570.3,586.0 573.6,586.0 576.8,586.0 580.0,586.0 583.2,586.0 586.4,586.0 589.6,586.0 592.9,586.0 596.1,586.0 599.3,586.0 602.5,586.0 605.7,586.0 608.9,586.0 612.2,586.0 615.4,586.0 618.6,586.0 621.8,586.0 625.0,586.0 628.2,586.0 631.5,586.0 634.7,586.0 637.9,586.0 641.1,586.0 644.3,586.0 647.5,586.0 650.8,586.0 654.0,586.0 657.2,586.0 660.4,586.0 663.6,586.0 666.8,586.0 670.1,586.0 673.3,586.0 676.5,586.0 679.7,586.0 682.9,586.0 686.1,586.0 689.4,586.0 692.6,586.0 695.8,586.0 699.0,586.0 702.2,586.0 705.4,586.0 708.7,586.0 711.9,586.0 715.1,586.0 718.3,586.0 721.5,586.0 724.7,586.0 728.0,586.0 731.2,586.0 734.4,586.0 737.6,586.0 737.6,977.7 734.4,977.0 731.2,976.3 728.0,975.6 724.7,974.9 721.5,974.2 718.3,973.5 715.1,972.8 711.9,972.2 708.7,971.5 705.4,970.8 702.2,970.2 699.0,969.5 695.8,968.8 692.6,968.2 689.4,967.6 686.1,966.9 682.9,966.3 679.7,965.7 676.5,965.0 673.3,964.4 670.1,963.8 666.8,963.2 663.6,962.6 660.4,962.0 657.2,961.4 654.0,960.9 650.8,960.3 647.5,959.8 644.3,959.2 641.1,958.7 637.9,958.1 634.7,957.6 631.5,957.1 628.2,956.6 625.0,956.1 621.8,955.6 618.6,955.1 615.4,954.7 612.2,954.2 608.9,953.8 605.7,953.4 602.5,952.9 599.3,952.5 596.1,952.2 592.9,951.8 589.6,951.4 586.4,951.1 583.2,950.8 580.0,950.5 576.8,950.2 573.6,949.9 570.3,949.6 567.1,949.4 563.9,949.2 560.7,949.0 557.5,948.8 554.3,948.7 551.0,948.6 547.8,948.5 544.6,948.4 541.4,948.3 538.2,948.3 535.0,948.3 531.7,948.4 528.5,948.5 525.3,948.6 522.1,948.7 518.9,948.9 515.7,949.1 512.4,949.3 509.2,949.6 506.0,950.0 502.8,950.4 499.6,950.8 496.4,951.3 493.1,951.8 489.9,952.4 486.7,953.0 483.5,953.7 480.3,954.4 477.1,955.2 473.8,956.1 470.6,957.1 467.4,958.1 464.2,959.1 461.0,960.3 457.8,961.5 454.5,962.8 451.3,964.2 448.1,965.6 444.9,967.2 441.7,968.8 438.5,970.5 435.2,972.3 432.0,974.2 428.8,976.2 425.6,978.3 422.4,980.5 419.2,982.8 415.9,985.1 412.7,987.6 409.5,990.2 406.3,992.9 403.1,995.6 399.9,998.5 396.6,1001.4 393.4,1004.5 390.2,1007.6 387.0,1010.9 383.8,1014.2 380.6,1017.7 377.3,1020.6 374.1,1020.6 370.9,1020.6 367.7,1020.6 364.5,1020.6 361.3,1020.6 358.0,1020.6 354.8,1020.6 351.6,1020.6 348.4,1020.6 345.2,1020.6 342.0,1020.6 338.7,1020.6 335.5,1020.6 332.3,1020.6 329.1,1020.6 325.9,1020.6 322.7,1020.6 319.4,1020.6 316.2,1020.6 313.0,1020.6 309.8,1020.6 306.6,1020.6 303.4,1020.6 300.1,1020.6 296.9,1020.6 293.7,1020.6 290.5,1020.6 287.3,1020.6 284.1,1020.6 280.8,1020.6 277.6,1020.6 274.4,1020.6 271.2,1020.6 268.0,1020.6 264.8,1020.6 261.5,1020.6 258.3,1020.6 255.1,1020.6 251.9,1020.6 248.7,1020.6 245.5,1020.6 242.2,1020.6 239.0,1020.6 235.8,1020.6 232.6,1020.6 229.4,1020.6 226.2,1020.6 222.9,1020.6 219.7,1020.6 216.5,1020.6 213.3,1020.6 210.1,1020.6 206.9,1020.6 203.6,1020.6 200.4,1020.6 197.2,1020.6 194.0,1020.6 190.8,1020.6 187.6,1020.6 184.3,1020.6 181.1,1020.6 177.9,1020.6 174.7,1020.6 171.5,1020.6 168.3,1020.6 165.0,1020.6 161.8,1020.6 158.6,1020.6 155.4,1020.6 152.2,1020.6 149.0,1020.6 145.7,1020.6 142.5,1020.6 139.3,1020.6 136.1,1020.6 132.9,1020.6 129.7,1020.6 126.4,1020.6 123.2,1020.6 120.0,1020.6 116.8,1020.6 113.6,1020.6 110.4,1020.6 107.1,1020.6 103.9,1020.6 100.7,1020.6 97.5,1020.6" fill="#e61e28" fill-opacity="0.22"/>
<line x1="214.5" y1="1022.1" x2="737.6" y2="594.7" stroke="#e64c4c" stroke-width="1.1"/>
<line x1="141.1" y1="1020.0" x2="141.1" y2="1028.7" stroke="#bcbcbc" stroke-width="1"/>
<text transform="translate(141.1,1051) scale(1.045,1)" text-anchor="middle" style="font-family:'Liberation Sans',sans-serif;font-weight:bold;stroke:#000;stroke-width:0.25px;font-size:17.6px">-2.0</text>
<line x1="234.3" y1="1020.0" x2="234.3" y2="1028.7" stroke="#bcbcbc" stroke-width="1"/>
<text transform="translate(234.3,1051) scale(1.045,1)" text-anchor="middle" style="font-family:'Liberation Sans',sans-serif;font-weight:bold;stroke:#000;stroke-width:0.25px;font-size:17.6px">-1.5</text>
<line x1="327.5" y1="1020.0" x2="327.5" y2="1028.7" stroke="#bcbcbc" stroke-width="1"/>
<text transform="translate(327.5,1051) scale(1.045,1)" text-anchor="middle" style="font-family:'Liberation Sans',sans-serif;font-weight:bold;stroke:#000;stroke-width:0.25px;font-size:17.6px">-1.0</text>
<line x1="420.7" y1="1020.0" x2="420.7" y2="1028.7" stroke="#bcbcbc" stroke-width="1"/>
<text transform="translate(420.7,1051) scale(1.045,1)" text-anchor="middle" style="font-family:'Liberation Sans',sans-serif;font-weight:bold;stroke:#000;stroke-width:0.25px;font-size:17.6px">-0.5</text>
<line x1="513.9" y1="1020.0" x2="513.9" y2="1028.7" stroke="#bcbcbc" stroke-width="1"/>
<text transform="translate(513.9,1051) scale(1.045,1)" text-anchor="middle" style="font-family:'Liberation Sans',sans-serif;font-weight:bold;stroke:#000;stroke-width:0.25px;font-size:17.6px">0.0</text>
<line x1="607.1" y1="1020.0" x2="607.1" y2="1028.7" stroke="#bcbcbc" stroke-width="1"/>
<text transform="translate(607.1,1051) scale(1.045,1)" text-anchor="middle" style="font-family:'Liberation Sans',sans-serif;font-weight:bold;stroke:#000;stroke-width:0.25px;font-size:17.6px">0.5</text>
<line x1="700.3" y1="1020.0" x2="700.3" y2="1028.7" stroke="#bcbcbc" stroke-width="1"/>
<text transform="translate(700.3,1051) scale(1.045,1)" text-anchor="middle" style="font-family:'Liberation Sans',sans-serif;font-weight:bold;stroke:#000;stroke-width:0.25px;font-size:17.6px">1.0</text>
<line x1="187.7" y1="1020.0" x2="187.7" y2="1024.0" stroke="#bcbcbc" stroke-width="1"/>
<line x1="280.9" y1="1020.0" x2="280.9" y2="1024.0" stroke="#bcbcbc" stroke-width="1"/>
<line x1="374.1" y1="1020.0" x2="374.1" y2="1024.0" stroke="#bcbcbc" stroke-width="1"/>
<line x1="467.3" y1="1020.0" x2="467.3" y2="1024.0" stroke="#bcbcbc" stroke-width="1"/>
<line x1="560.5" y1="1020.0" x2="560.5" y2="1024.0" stroke="#bcbcbc" stroke-width="1"/>
<line x1="653.7" y1="1020.0" x2="653.7" y2="1024.0" stroke="#bcbcbc" stroke-width="1"/>
<line x1="90.1" y1="626.1" x2="98.1" y2="626.1" stroke="#bcbcbc" stroke-width="1"/>
<text transform="translate(82.8,632.6) scale(1.045,1)" text-anchor="end" style="font-family:'Liberation Sans',sans-serif;font-weight:bold;stroke:#000;stroke-width:0.25px;font-size:17.6px">0.15</text>
<line x1="90.1" y1="685.0" x2="98.1" y2="685.0" stroke="#bcbcbc" stroke-width="1"/>
<text transform="translate(82.8,691.5) scale(1.045,1)" text-anchor="end" style="font-family:'Liberation Sans',sans-serif;font-weight:bold;stroke:#000;stroke-width:0.25px;font-size:17.6px">0.10</text>
<line x1="90.1" y1="743.9" x2="98.1" y2="743.9" stroke="#bcbcbc" stroke-width="1"/>
<text transform="translate(82.8,750.4) scale(1.045,1)" text-anchor="end" style="font-family:'Liberation Sans',sans-serif;font-weight:bold;stroke:#000;stroke-width:0.25px;font-size:17.6px">0.05</text>
<line x1="90.1" y1="802.8" x2="98.1" y2="802.8" stroke="#bcbcbc" stroke-width="1"/>
<text transform="translate(82.8,809.3) scale(1.045,1)" text-anchor="end" style="font-family:'Liberation Sans',sans-serif;font-weight:bold;stroke:#000;stroke-width:0.25px;font-size:17.6px">0.00</text>
<line x1="90.1" y1="861.7" x2="98.1" y2="861.7" stroke="#bcbcbc" stroke-width="1"/>
<text transform="translate(82.8,868.2) scale(1.045,1)" text-anchor="end" style="font-family:'Liberation Sans',sans-serif;font-weight:bold;stroke:#000;stroke-width:0.25px;font-size:17.6px">-0.05</text>
<line x1="90.1" y1="920.6" x2="98.1" y2="920.6" stroke="#bcbcbc" stroke-width="1"/>
<text transform="translate(82.8,927.1) scale(1.045,1)" text-anchor="end" style="font-family:'Liberation Sans',sans-serif;font-weight:bold;stroke:#000;stroke-width:0.25px;font-size:17.6px">-0.10</text>
<line x1="90.1" y1="979.5" x2="98.1" y2="979.5" stroke="#bcbcbc" stroke-width="1"/>
<text transform="translate(82.8,986.0) scale(1.045,1)" text-anchor="end" style="font-family:'Liberation Sans',sans-serif;font-weight:bold;stroke:#000;stroke-width:0.25px;font-size:17.6px">-0.15</text>
<line x1="94.1" y1="655.5" x2="98.1" y2="655.5" stroke="#bcbcbc" stroke-width="1"/>
<line x1="94.1" y1="714.4" x2="98.1" y2="714.4" stroke="#bcbcbc" stroke-width="1"/>
<line x1="94.1" y1="773.3" x2="98.1" y2="773.3" stroke="#bcbcbc" stroke-width="1"/>
<line x1="94.1" y1="832.3" x2="98.1" y2="832.3" stroke="#bcbcbc" stroke-width="1"/>
<line x1="94.1" y1="891.2" x2="98.1" y2="891.2" stroke="#bcbcbc" stroke-width="1"/>
<line x1="94.1" y1="950.1" x2="98.1" y2="950.1" stroke="#bcbcbc" stroke-width="1"/>
<text transform="translate(420.6,1083.1) scale(1.045,1)" text-anchor="middle" style="font-family:'Liberation Sans',sans-serif;font-weight:bold;stroke:#000;stroke-width:0.25px;font-size:17.6px">HbA1c difference</text>
<text transform="translate(14.4,802.7) scale(1.045,1) rotate(-90)" text-anchor="middle" style="font-family:'Liberation Sans',sans-serif;font-weight:bold;stroke:#000;stroke-width:0.25px;font-size:17.8px">Log relative risk</text>
<text transform="translate(8.2,597.0) scale(1.045,1)" style="font-family:'Liberation Sans',sans-serif;font-size:24.5px">b</text>
</svg>
</body></html>
